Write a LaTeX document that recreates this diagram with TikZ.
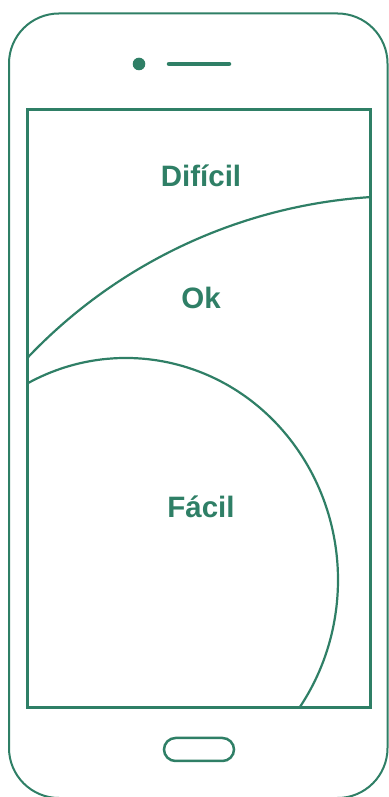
\documentclass[tikz,border=0pt]{standalone}
\usepackage{fontspec}
\setmainfont{Liberation Sans}
\definecolor{phone}{RGB}{47,127,102}
\begin{document}
\begin{tikzpicture}[x=1pt,y=1pt,
  outline/.style={draw=phone,line width=2pt},
  screenbox/.style={draw=phone,line width=3pt},
  zone/.style={draw=phone,line width=2.2pt},
  label/.style={text=phone,font=\fontsize{29.5}{31}\selectfont\bfseries,anchor=base,inner sep=0pt}]
\useasboundingbox (0,0) rectangle (388,797);
% phone body
\draw[outline,rounded corners=50pt] (9,-1) rectangle (387.5,783.5);
% camera and speaker
\fill[phone] (139,733) circle (6.3);
\draw[phone,line width=4.5pt,line cap=round] (169,733) -- (229,733);
% home button
\draw[phone,line width=2.5pt,rounded corners=11.5pt] (164,36) rectangle (234,59);
% zones
\begin{scope}
  \clip (27.3,89) rectangle (370,687.5);
  \draw[zone] (404,82) ++(140:519) arc (140:88:519);
  \draw[zone] (126,217) ++(125:212 and 222) arc (125:-40:212 and 222);
\end{scope}
% screen
\draw[screenbox] (27.3,89) rectangle (370,687.5);
% labels
\node[label] (dificil) at (201,610) {Difícil};
\node[label] (ok) at (201,488) {Ok};
\node[label] (facil) at (201,279) {Fácil};
\end{tikzpicture}
\end{document}
